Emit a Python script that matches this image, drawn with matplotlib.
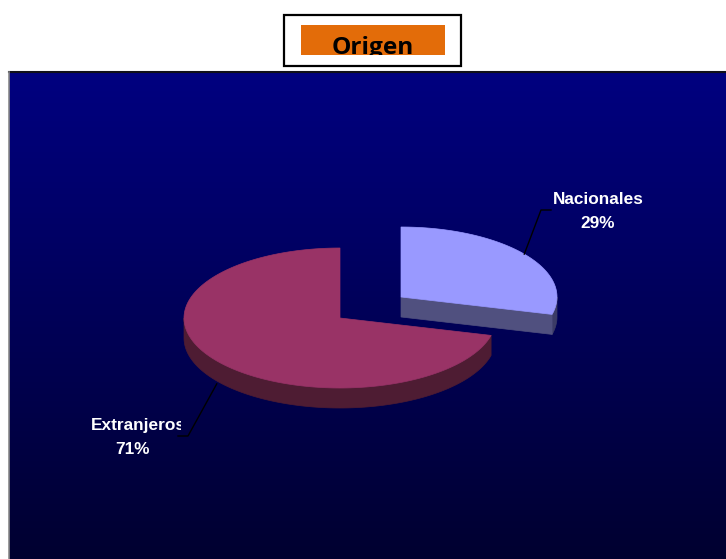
# -*- coding: utf-8 -*-
import numpy as np
import matplotlib
matplotlib.use('Agg')
import matplotlib.pyplot as plt
from matplotlib.patches import Polygon, Rectangle

# %% data
labels = ['Nacionales', 'Extranjeros']
percents = [29, 71]
title = 'Origen'

# %% pie geometry (pixels of the picture)
W, H = 726, 559
A, B = 156.0, 70.0   # ellipse radii
DEPTH = 20.0
CENTERS = [(401.0, 297.0), (340.0, 318.0)]
TOP_COL = ['#9999ff', '#993366']
WALL_COL = ['#50507f', '#4e1c33']
EDGE_COL = ['#3b3b66', '#4e1c33']


def rim(c, t0, t1, dy=0.0):
    '''points of the ellipse between angles t0, t1 (deg, clockwise from 12h)'''
    t = np.radians(np.linspace(t0, t1, 200))
    return np.column_stack([c[0] + A * np.sin(t), c[1] - B * np.cos(t) + dy])


def point(c, t, dy=0.0):
    return rim(c, t, t, dy)[0]


def wall(ax, pts, color):
    band = np.vstack([pts, pts[::-1] + [0, DEPTH]])
    ax.add_patch(Polygon(band, closed=True, fc=color, ec=color, lw=0.5, zorder=3))


fig = plt.figure(figsize=(W / 100, H / 100), dpi=100, facecolor='white')
ax = fig.add_axes([0, 0, 1, 1])
ax.set_xlim(0, W)
ax.set_ylim(H, 0)
ax.axis('off')

# %% background gradient panel
grad = np.linspace(0, 1, 256).reshape(-1, 1, 1)
top = np.array([0, 0, 128]) / 255
bottom = np.array([0, 0, 48]) / 255
ax.imshow(top + (bottom - top) * grad, extent=(9, W, H, 72), aspect='auto', zorder=1)
ax.set_xlim(0, W)
ax.set_ylim(H, 0)
ax.plot([9, W], [72, 72], color='#101018', lw=1.5, zorder=2)
ax.plot([8.5, 8.5], [72, H], color='#8a8a8a', lw=1.2, zorder=2)

# %% 3D pie, built from the percentages
split = percents[0] / sum(percents) * 360.0
c0, c1 = CENTERS

# big slice: outer wall then top
wall(ax, rim(c1, split, 270), WALL_COL[1])
ax.add_patch(Polygon(np.vstack([[c1], rim(c1, split, 360)]), closed=True,
                     fc=TOP_COL[1], ec=TOP_COL[1], lw=0.5, zorder=4))

# small slice: right rim, cut face, top
wall(ax, rim(c0, 90, split), EDGE_COL[0])
wall(ax, np.vstack([[c0], [point(c0, split)]]), WALL_COL[0])
ax.add_patch(Polygon(np.vstack([[c0], rim(c0, 0, split)]), closed=True,
                     fc=TOP_COL[0], ec=TOP_COL[0], lw=0.5, zorder=4))

# %% labels and leader lines
mid0 = split / 2
mid1 = split + (360 - split) / 2
p0 = point(c0, mid0)
p1 = point(c1, mid1, DEPTH + 3)
ax.plot([p0[0], 541, 551], [p0[1], 210, 210], color='black', lw=1, zorder=5)
ax.plot([p1[0], 188, 178], [p1[1], 436, 436], color='black', lw=1, zorder=5)

font = dict(family='Liberation Sans', weight='bold', size=12.4, color='white',
            va='center', zorder=6)
ax.text(598, 199, labels[0], ha='center', **font)
ax.text(598, 223, '{}%'.format(percents[0]), ha='center', **font)
t1 = ax.text(91, 425.5, labels[1], ha='left', **font)
t1.set_clip_path(Rectangle((0, 0), 181, H, transform=ax.transData))
t1.set_clip_on(True)
ax.text(132.5, 449, '{}%'.format(percents[1]), ha='center', **font)

# %% title box
ax.add_patch(Rectangle((284, 15), 177, 51, fc='white', ec='black', lw=1.6, zorder=2))
orange = Rectangle((301, 25), 144, 30, fc='#e36c09', ec='none', zorder=3)
ax.add_patch(orange)
tt = ax.text(372.5, 47.5, title, family='Open Sans', weight='bold', size=17.6,
             color='black', ha='center', va='center', zorder=4)
tt.set_clip_path(orange)
tt.set_clip_on(True)

plt.savefig('out.png', dpi=100)
